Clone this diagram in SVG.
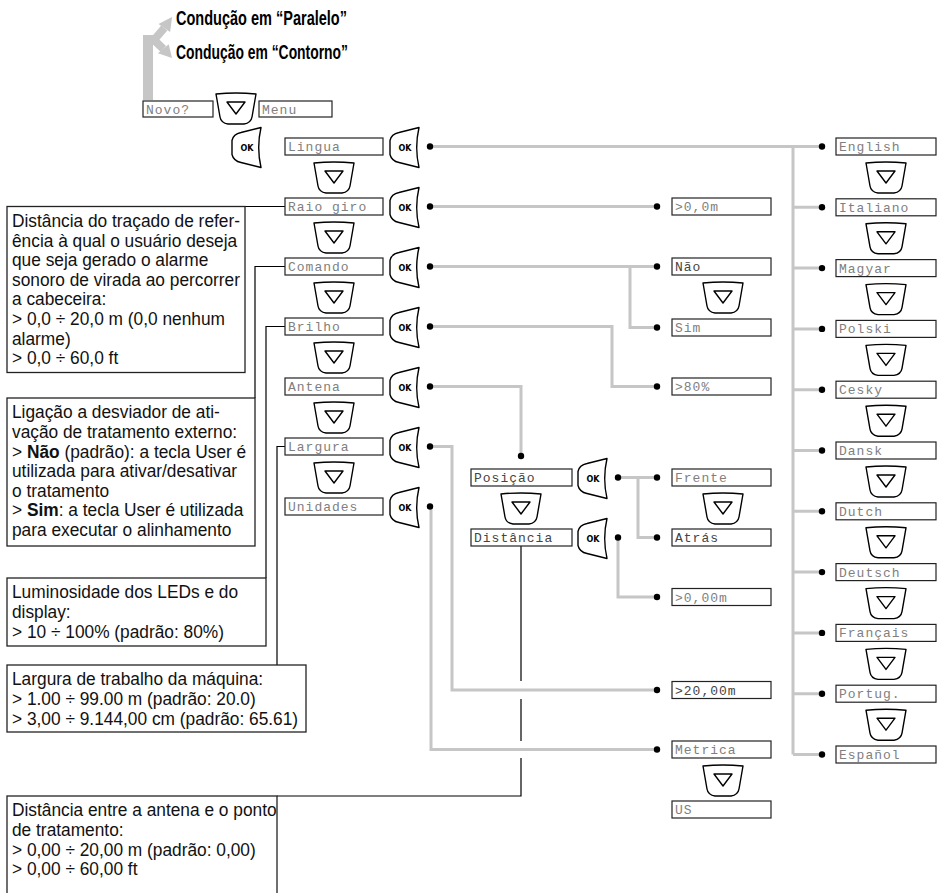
<svg xmlns="http://www.w3.org/2000/svg" width="938" height="893" viewBox="0 0 938 893">
<style>
.box{fill:#fff;stroke:#222;stroke-width:1.2}
.disp{font-family:"Liberation Mono","DejaVu Sans Mono",monospace;font-size:13px;fill:#808080;letter-spacing:1px}
.dd{fill:#444}
.btn{fill:#fff;stroke:#000;stroke-width:1.4;stroke-linejoin:round}
.tri{fill:none;stroke:#000;stroke-width:1.4;stroke-linejoin:round}
.okt{font-family:"DejaVu Sans","Liberation Sans",sans-serif;font-size:8px;font-weight:bold;text-anchor:middle}
.g{fill:none;stroke:#c6c6c6;stroke-width:3}
.k{fill:none;stroke:#000;stroke-width:1.2}
.nb{fill:#fff;stroke:#222;stroke-width:1.3}
.note{font-family:"Liberation Sans",Arial,sans-serif;font-size:18.5px;fill:#111}
.title{font-family:"Liberation Sans",Arial,sans-serif;font-size:20px;font-weight:bold;fill:#000}
</style>
<defs>
<g id="okb"><path class="btn" d="M30,0 C27,13 27,27 30,40 L10,35 C5,34 2,31 1,27 L1,13 C2,8 5,6 10,5 Z"/><text class="okt" x="16" y="23.5">OK</text></g>
<g id="dnb"><path class="btn" d="M1,1 Q21,-1 41,1 L37,24 Q36,30 29,31 L13,31 Q6,30 5,24 Z"/><path class="tri" d="M12,9 L30,9 L21,21 Z"/></g>
</defs>
<rect width="938" height="893" fill="#fff"/>

<g id="top-arrow" fill="#c6c6c6">
<path d="M148,100 V40 H157" fill="none" stroke="#c6c6c6" stroke-width="10"/>
<path d="M154,40 L164.3,28 M154,40 L163.3,48.8" fill="none" stroke="#c6c6c6" stroke-width="8"/>
<polygon points="172,17 170.1,31.9 158.5,24.1"/>
<polygon points="172,58 157.9,53.3 168.7,44.3"/>
</g>
<g id="titles">
<text class="title" x="176" y="24.5" textLength="171" lengthAdjust="spacingAndGlyphs">Condução em “Paralelo”</text>
<text class="title" x="176" y="58.5" textLength="172" lengthAdjust="spacingAndGlyphs">Condução em “Contorno”</text>
</g>

<g id="connectors">
<path class="g" d="M430,146.5 H822 M793,146.5 V754.5 M793,207.3 H822 M793,268.1 H822 M793,328.9 H822 M793,389.7 H822 M793,450.5 H822 M793,511.3 H822 M793,572.1 H822 M793,632.9 H822 M793,693.7 H822 M793,754.5 H822"/>
<path class="g" d="M430,206.5 H657"/>
<path class="g" d="M430,266.5 H657 M630,266.5 V327.5 H657"/>
<path class="g" d="M430,326.5 H612 V386.5 H657"/>
<path class="g" d="M430,386.5 H521 V456"/>
<path class="g" d="M430,446.5 H452 V690 H657"/>
<path class="g" d="M431,506.5 V749.5 H657"/>
<path class="g" d="M618,477.5 H657 M638,477.5 V537.5 H657"/>
<path class="g" d="M618,537.5 V597 H657"/>
<path class="k" d="M285,206.5 H245"/>
<path class="k" d="M285,266.5 H255 V398"/>
<path class="k" d="M285,326.5 H266 V578"/>
<path class="k" d="M285,446.5 H277 V665"/>
<path class="k" d="M521,546 V681 M521,699 V741 M521,758 V796 H277"/>
<g fill="#000">
<circle cx="430" cy="146.5" r="3.2"/><circle cx="430" cy="206.5" r="3.2"/><circle cx="430" cy="266.5" r="3.2"/><circle cx="430" cy="326.5" r="3.2"/><circle cx="430" cy="386.5" r="3.2"/><circle cx="430" cy="446.5" r="3.2"/><circle cx="430" cy="506.5" r="3.2"/>
<circle cx="657" cy="206.5" r="3.2"/><circle cx="657" cy="266.5" r="3.2"/><circle cx="657" cy="327.5" r="3.2"/><circle cx="657" cy="386.5" r="3.2"/>
<circle cx="521" cy="456" r="3.2"/>
<circle cx="618" cy="477.5" r="3.2"/><circle cx="618" cy="537.5" r="3.2"/>
<circle cx="657" cy="477.5" r="3.2"/><circle cx="657" cy="537.5" r="3.2"/><circle cx="657" cy="597" r="3.2"/><circle cx="657" cy="690" r="3.2"/><circle cx="657" cy="749.5" r="3.2"/>
<circle cx="822" cy="146.5" r="3.2"/><circle cx="822" cy="207.3" r="3.2"/><circle cx="822" cy="268.1" r="3.2"/><circle cx="822" cy="328.9" r="3.2"/><circle cx="822" cy="389.7" r="3.2"/><circle cx="822" cy="450.5" r="3.2"/><circle cx="822" cy="511.3" r="3.2"/><circle cx="822" cy="572.1" r="3.2"/><circle cx="822" cy="632.9" r="3.2"/><circle cx="822" cy="693.7" r="3.2"/><circle cx="822" cy="754.5" r="3.2"/>
</g>
</g>

<g id="n-novo"><rect class="box" x="143" y="101" width="70" height="16"/><text class="disp" x="146" y="113.5">Novo?</text></g>
<g id="n-novo-down"><use href="#dnb" x="215" y="93"/></g>
<g id="n-menu"><rect class="box" x="259" y="101" width="73" height="16"/><text class="disp" x="262" y="113.5">Menu</text></g>
<g id="n-ok-menu"><use href="#okb" x="231" y="127.5"/></g>

<g id="n-lingua"><rect class="box" x="285" y="138" width="98" height="17"/><text class="disp" x="288" y="151">Lingua</text><use href="#okb" x="389" y="127.5"/><use href="#dnb" x="313" y="162"/></g>
<g id="n-raio"><rect class="box" x="285" y="198" width="98" height="17"/><text class="disp" x="288" y="211">Raio giro</text><use href="#okb" x="389" y="187.5"/><use href="#dnb" x="313" y="222"/></g>
<g id="n-comando"><rect class="box" x="285" y="258" width="98" height="17"/><text class="disp" x="288" y="271">Comando</text><use href="#okb" x="389" y="247.5"/><use href="#dnb" x="313" y="282"/></g>
<g id="n-brilho"><rect class="box" x="285" y="318" width="98" height="17"/><text class="disp" x="288" y="331">Brilho</text><use href="#okb" x="389" y="307.5"/><use href="#dnb" x="313" y="342"/></g>
<g id="n-antena"><rect class="box" x="285" y="378" width="98" height="17"/><text class="disp" x="288" y="391">Antena</text><use href="#okb" x="389" y="367.5"/><use href="#dnb" x="313" y="402"/></g>
<g id="n-largura"><rect class="box" x="285" y="438" width="98" height="17"/><text class="disp" x="288" y="451">Largura</text><use href="#okb" x="389" y="427.5"/><use href="#dnb" x="313" y="462"/></g>
<g id="n-unidades"><rect class="box" x="285" y="498" width="98" height="17"/><text class="disp" x="288" y="511">Unidades</text><use href="#okb" x="389" y="487.5"/></g>

<g id="n-raio-val"><rect class="box" x="672" y="198" width="99" height="17"/><text class="disp" x="675" y="211">&gt;0,0m</text></g>
<g id="n-nao"><rect class="box" x="672" y="258" width="99" height="17"/><text class="disp dd" x="675" y="271">Não</text><use href="#dnb" x="702" y="282"/></g>
<g id="n-sim"><rect class="box" x="672" y="319" width="99" height="17"/><text class="disp" x="675" y="332">Sim</text></g>
<g id="n-brilho-val"><rect class="box" x="672" y="378" width="99" height="17"/><text class="disp" x="675" y="391">&gt;80%</text></g>

<g id="n-posicao"><rect class="box" x="471" y="469" width="101" height="17"/><text class="disp dd" x="474" y="482">Posição</text><use href="#okb" x="577" y="458.5"/><use href="#dnb" x="500" y="493"/></g>
<g id="n-distancia"><rect class="box" x="471" y="529" width="101" height="17"/><text class="disp dd" x="474" y="542">Distância</text><use href="#okb" x="577" y="518.5"/></g>
<g id="n-frente"><rect class="box" x="672" y="469" width="99" height="17"/><text class="disp" x="675" y="482">Frente</text><use href="#dnb" x="702" y="493"/></g>
<g id="n-atras"><rect class="box" x="672" y="529" width="99" height="17"/><text class="disp dd" x="675" y="542">Atrás</text></g>
<g id="n-dist-val"><rect class="box" x="672" y="588.5" width="99" height="17"/><text class="disp" x="675" y="601.5">&gt;0,00m</text></g>
<g id="n-larg-val"><rect class="box" x="672" y="681.5" width="99" height="17"/><text class="disp dd" x="675" y="694.5">&gt;20,00m</text></g>
<g id="n-metrica"><rect class="box" x="672" y="741" width="99" height="17"/><text class="disp" x="675" y="754">Metrica</text><use href="#dnb" x="702" y="765"/></g>
<g id="n-us"><rect class="box" x="672" y="801" width="99" height="17"/><text class="disp" x="675" y="814">US</text></g>

<g id="n-english"><rect class="box" x="836" y="138" width="100" height="17"/><text class="disp" x="839" y="151">English</text><use href="#dnb" x="865" y="162"/></g>
<g id="n-italiano"><rect class="box" x="836" y="198.8" width="100" height="17"/><text class="disp" x="839" y="211.8">Italiano</text><use href="#dnb" x="865" y="222.8"/></g>
<g id="n-magyar"><rect class="box" x="836" y="259.6" width="100" height="17"/><text class="disp" x="839" y="272.6">Magyar</text><use href="#dnb" x="865" y="283.6"/></g>
<g id="n-polski"><rect class="box" x="836" y="320.4" width="100" height="17"/><text class="disp" x="839" y="333.4">Polski</text><use href="#dnb" x="865" y="344.4"/></g>
<g id="n-cesky"><rect class="box" x="836" y="381.2" width="100" height="17"/><text class="disp" x="839" y="394.2">Cesky</text><use href="#dnb" x="865" y="405.2"/></g>
<g id="n-dansk"><rect class="box" x="836" y="442" width="100" height="17"/><text class="disp" x="839" y="455">Dansk</text><use href="#dnb" x="865" y="466"/></g>
<g id="n-dutch"><rect class="box" x="836" y="502.8" width="100" height="17"/><text class="disp" x="839" y="515.8">Dutch</text><use href="#dnb" x="865" y="526.8"/></g>
<g id="n-deutsch"><rect class="box" x="836" y="563.6" width="100" height="17"/><text class="disp" x="839" y="576.6">Deutsch</text><use href="#dnb" x="865" y="587.6"/></g>
<g id="n-francais"><rect class="box" x="836" y="624.4" width="100" height="17"/><text class="disp" x="839" y="637.4">Français</text><use href="#dnb" x="865" y="648.4"/></g>
<g id="n-portug"><rect class="box" x="836" y="685.2" width="100" height="17"/><text class="disp" x="839" y="698.2">Portug.</text><use href="#dnb" x="865" y="709.2"/></g>
<g id="n-espanol"><rect class="box" x="836" y="746" width="100" height="17"/><text class="disp" x="839" y="759">Español</text></g>

<g id="note-raio">
<rect class="nb" x="7" y="206.5" width="238" height="166"/>
<g class="note" transform="translate(12 0) scale(0.936 1)">
<text x="0" y="227">Distância do traçado de refer-</text>
<text x="0" y="246.6">ência à qual o usuário deseja</text>
<text x="0" y="266.2">que seja gerado o alarme</text>
<text x="0" y="285.8">sonoro de virada ao percorrer</text>
<text x="0" y="305.4">a cabeceira:</text>
<text x="0" y="325">&gt; 0,0 ÷ 20,0 m (0,0 nenhum</text>
<text x="0" y="344.6">alarme)</text>
<text x="0" y="364.2">&gt; 0,0 ÷ 60,0 ft</text>
</g></g>
<g id="note-comando">
<rect class="nb" x="7" y="398" width="248" height="148"/>
<g class="note" transform="translate(12 0) scale(0.936 1)">
<text x="0" y="418.5">Ligação a desviador de ati-</text>
<text x="0" y="438.1">vação de tratamento externo:</text>
<text x="0" y="457.7">&gt; <tspan font-weight="bold">Não</tspan> (padrão): a tecla User é</text>
<text x="0" y="477.3">utilizada para ativar/desativar</text>
<text x="0" y="496.9">o tratamento</text>
<text x="0" y="516.5">&gt; <tspan font-weight="bold">Sim</tspan>: a tecla User é utilizada</text>
<text x="0" y="536.1">para executar o alinhamento</text>
</g></g>
<g id="note-brilho">
<rect class="nb" x="7" y="578" width="259" height="68"/>
<g class="note" transform="translate(12 0) scale(0.936 1)">
<text x="0" y="598.5">Luminosidade dos LEDs e do</text>
<text x="0" y="618.1">display:</text>
<text x="0" y="637.7">&gt; 10 ÷ 100% (padrão: 80%)</text>
</g></g>
<g id="note-largura">
<rect class="nb" x="7" y="665" width="299" height="67"/>
<g class="note" transform="translate(12 0) scale(0.936 1)">
<text x="0" y="685.5">Largura de trabalho da máquina:</text>
<text x="0" y="705.1">&gt; 1.00 ÷ 99.00 m (padrão: 20.0)</text>
<text x="0" y="724.7">&gt; 3,00 ÷ 9.144,00 cm (padrão: 65.61)</text>
</g></g>
<g id="note-distancia">
<rect class="nb" x="7" y="796" width="270" height="110"/>
<g class="note" transform="translate(12 0) scale(0.936 1)">
<text x="0" y="816.5">Distância entre a antena e o ponto</text>
<text x="0" y="836.1">de tratamento:</text>
<text x="0" y="855.7">&gt; 0,00 ÷ 20,00 m (padrão: 0,00)</text>
<text x="0" y="875.3">&gt; 0,00 ÷ 60,00 ft</text>
</g></g>
</svg>
